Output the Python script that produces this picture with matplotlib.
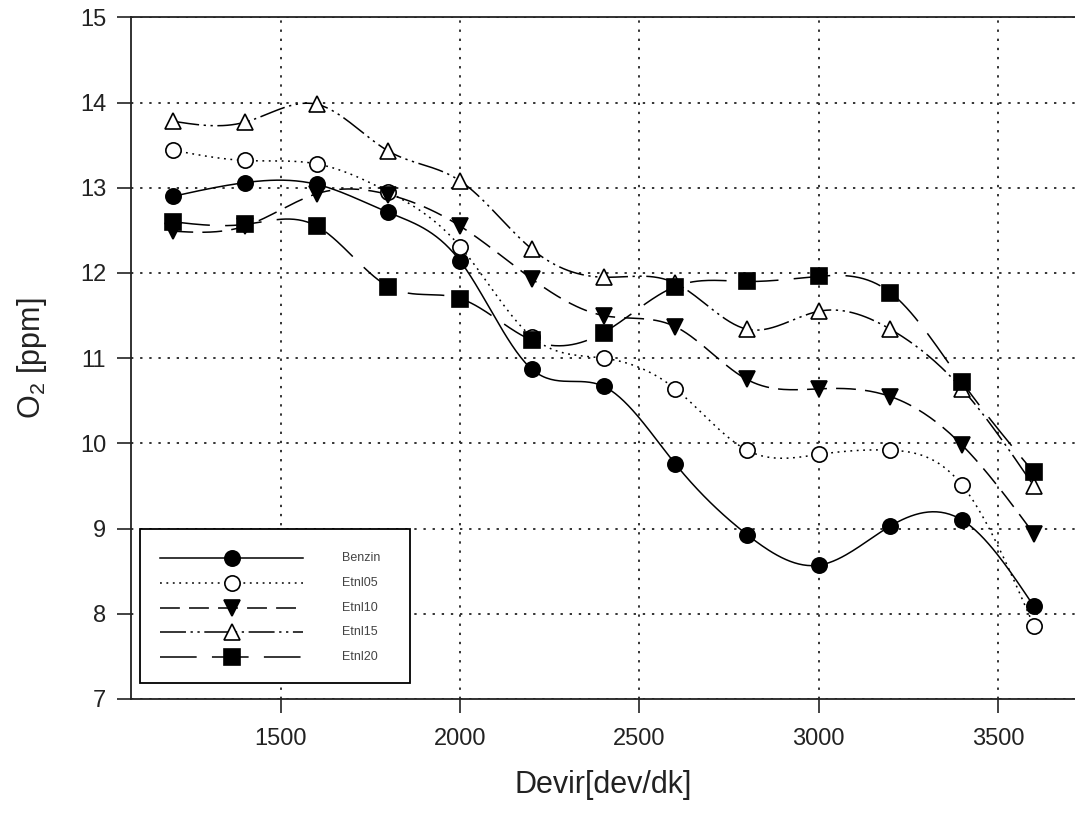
import numpy as np
import matplotlib
matplotlib.use("Agg")
import matplotlib.pyplot as plt
from matplotlib.lines import Line2D
from matplotlib.patches import Rectangle

plt.rcParams['font.family'] = ['Liberation Sans', 'DejaVu Sans']
plt.rcParams['mathtext.default'] = 'regular'

# Engine speed [rpm]
rpm = [1200, 1400, 1600, 1800, 2000, 2200, 2400, 2600, 2800, 3000, 3200, 3400, 3600]

# O2 readings per fuel blend
benzin = [12.90, 13.06, 13.04, 12.71, 12.14, 10.87, 10.67, 9.76, 8.93, 8.57, 9.03, 9.10, 8.09]
etnl05 = [13.44, 13.32, 13.28, 12.95, 12.31, 11.25, 11.00, 10.64, 9.92, 9.87, 9.92, 9.51, 7.86]
etnl10 = [12.49, 12.55, 12.93, 12.92, 12.55, 11.93, 11.50, 11.37, 10.75, 10.64, 10.55, 9.98, 8.94]
etnl15 = [13.78, 13.77, 13.98, 13.43, 13.08, 12.28, 11.95, 11.88, 11.34, 11.55, 11.34, 10.64, 9.50]
etnl20 = [12.60, 12.57, 12.55, 11.84, 11.70, 11.21, 11.30, 11.84, 11.90, 11.96, 11.77, 10.72, 9.66]

labels = ['Benzin', 'Etnl05', 'Etnl10', 'Etnl15', 'Etnl20']
x_ticks = [1500, 2000, 2500, 3000, 3500]
y_ticks = [7, 8, 9, 10, 11, 12, 13, 14, 15]


def natural_spline(x, y, n=400):
    """Smooth curve through the points using a natural cubic spline."""
    x = np.asarray(x, float)
    y = np.asarray(y, float)
    m = len(x)
    h = np.diff(x)
    A = np.zeros((m, m))
    b = np.zeros(m)
    A[0, 0] = 1.0
    A[-1, -1] = 1.0
    for i in range(1, m - 1):
        A[i, i - 1] = h[i - 1]
        A[i, i] = 2 * (h[i - 1] + h[i])
        A[i, i + 1] = h[i]
        b[i] = 3 * ((y[i + 1] - y[i]) / h[i] - (y[i] - y[i - 1]) / h[i - 1])
    c = np.linalg.solve(A, b)
    xs = np.linspace(x[0], x[-1], n)
    idx = np.clip(np.searchsorted(x, xs) - 1, 0, m - 2)
    dx = xs - x[idx]
    hi = h[idx]
    bi = (y[idx + 1] - y[idx]) / hi - hi * (2 * c[idx] + c[idx + 1]) / 3
    di = (c[idx + 1] - c[idx]) / (3 * hi)
    ys = y[idx] + bi * dx + c[idx] * dx ** 2 + di * dx ** 3
    return xs, ys


styles = [
    dict(ls='-', marker='o', mfc='black'),
    dict(ls=(0, (1.2, 3.0)), marker='o', mfc='white'),
    dict(ls=(0, (13, 6)), marker='v', mfc='black'),
    dict(ls=(0, (17, 3, 1.5, 3, 1.5, 3)), marker='^', mfc='white'),
    dict(ls=(0, (24, 10)), marker='s', mfc='black'),
]
series = [benzin, etnl05, etnl10, etnl15, etnl20]

W, H = 1075, 814
fig = plt.figure(figsize=(W / 100, H / 100), dpi=100)
ax = fig.add_axes([0.1219, 0.1413, 0.8781, 0.8374])

for vals, st in zip(series, styles):
    xs, ys = natural_spline(rpm, vals)
    ax.plot(xs, ys, color='black', lw=1.1, ls=st['ls'], zorder=3)
    ax.plot(rpm, vals, ls='none', marker=st['marker'], ms=11,
            mfc=st['mfc'], mec='black', mew=1.2, zorder=4)

ax.set_xlim(1082, 3715)
ax.set_ylim(7, 15)
ax.set_xticks(x_ticks)
ax.set_yticks(y_ticks)
ax.tick_params(direction='out', length=10, width=1.2, labelsize=17,
               colors='#222222')
ax.tick_params(axis='x', pad=11)
ax.tick_params(axis='y', pad=8)

ax.grid(True, color='#333333', ls=(0, (1.2, 3.5)), lw=1.4)
ax.set_axisbelow(True)
for side in ['left', 'bottom', 'top']:
    ax.spines[side].set_linewidth(1.3)
    ax.spines[side].set_color('#222222')
ax.spines['right'].set_visible(False)

ax.set_xlabel('Devir[dev/dk]', fontsize=22, color='#222222', labelpad=14)
ax.set_ylabel('O$_2$ [ppm]', fontsize=22, color='#222222', labelpad=22)


# Legend box drawn in figure pixel units
def fx(px):
    return px / W


def fy(py):
    return 1 - py / H


fig.add_artist(Rectangle((fx(140), fy(683)), fx(410) - fx(140), fy(529) - fy(683),
                         transform=fig.transFigure, facecolor='white',
                         edgecolor='black', lw=1.3, zorder=10))
row_y = [558, 583, 608, 632, 657]
for ry, st, lab in zip(row_y, styles, labels):
    fig.add_artist(Line2D([fx(160), fx(303)], [fy(ry), fy(ry)],
                          transform=fig.transFigure, color='black', lw=1.1,
                          ls=st['ls'], zorder=11))
    fig.add_artist(Line2D([fx(232)], [fy(ry)], transform=fig.transFigure,
                          ls='none', marker=st['marker'], ms=11,
                          mfc=st['mfc'], mec='black', mew=1.2, zorder=12))
    fig.text(fx(342), fy(ry), lab, fontsize=9, color='#444444',
             ha='left', va='center', zorder=12)

fig.savefig('out.png', dpi=100, facecolor='white')
